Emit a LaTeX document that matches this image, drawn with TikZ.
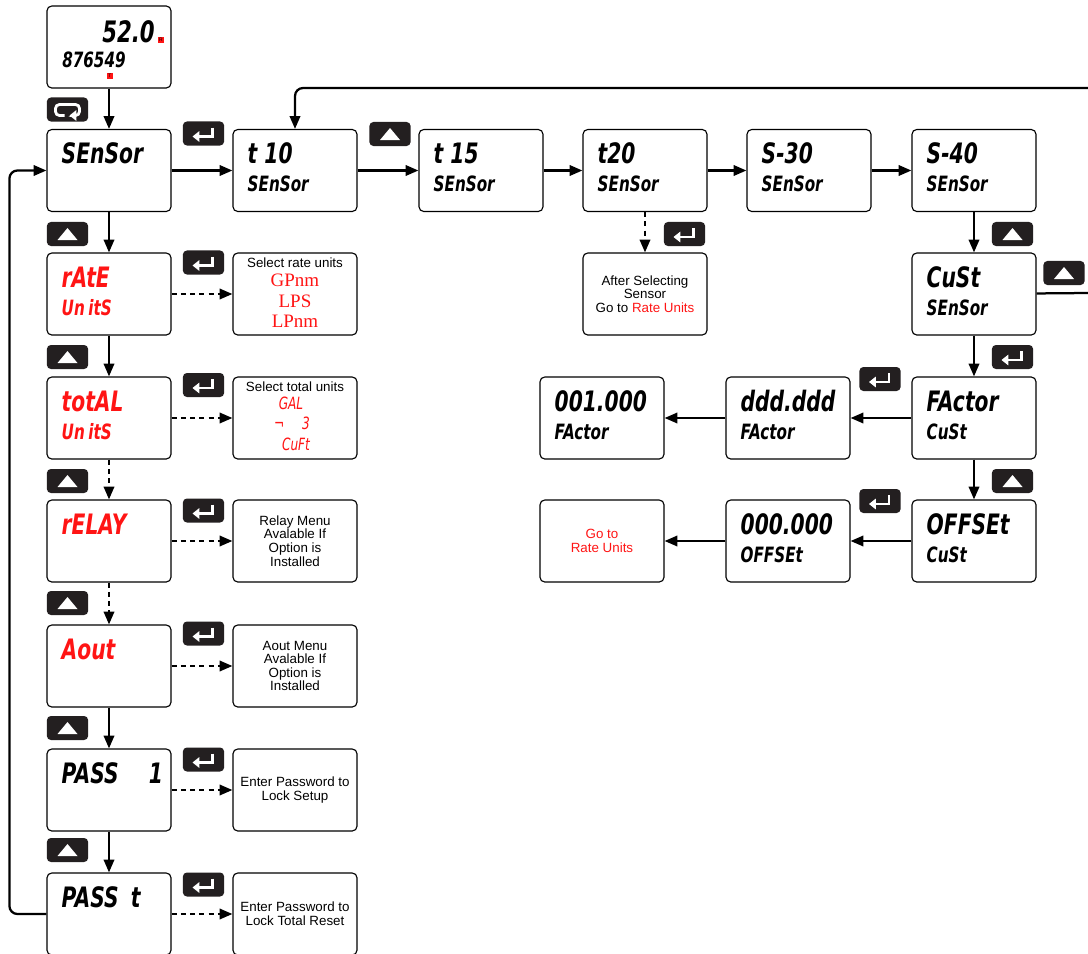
\documentclass[tikz,border=0pt]{standalone}
\usepackage{fontspec}
\usetikzlibrary{arrows.meta}
\newfontfamily\segfont{DejaVu Sans}[FakeStretch=0.72]
\newfontfamily\infofont{Liberation Sans}
\newfontfamily\unitfont{Liberation Serif}
\definecolor{lcdred}{RGB}{255,20,20}
\definecolor{keyblack}{RGB}{35,31,32}

\tikzset{
  disp/.style={draw, rounded corners=0.12cm, line width=0.8pt, minimum width=3.1cm, minimum height=2.05cm},
  info/.style={disp, align=center, font=\infofont\fontsize{9.5}{9.7}\selectfont},
  segbig/.style={anchor=base west, inner sep=0pt, font=\segfont\bfseries\itshape\fontsize{20}{20}\selectfont},
  segsmall/.style={anchor=base west, inner sep=0pt, font=\segfont\bfseries\itshape\fontsize{15}{15}\selectfont},
  segunit/.style={inner sep=0pt, text=lcdred, font=\segfont\itshape\fontsize{12}{12}\selectfont},
  serunit/.style={inner sep=0pt, text=lcdred, font=\unitfont\fontsize{13.5}{13.5}\selectfont},
  infotext/.style={inner sep=0pt, font=\infofont\fontsize{9.5}{9.7}\selectfont},
  flag/.style={fill=lcdred, inner sep=0pt, minimum size=0.13cm, font=\infofont\fontsize{3.5}{3.5}\selectfont},
  key/.style={fill=keyblack, rounded corners=0.1cm, minimum width=1.03cm, minimum height=0.6cm, inner sep=0pt},
  conn/.style={line width=1.6pt, -{Triangle[length=0.32cm, width=0.26cm]}},
  dconn/.style={conn, dash pattern=on 3.6pt off 3pt},
  icon/.style={white, line width=2pt, line join=miter, -{Triangle[length=0.17cm, width=0.26cm]}}
}

% display box: name, position, upper line, lower line, colour
\newcommand{\dispbox}[5]{%
  \node[disp] (#1) at (#2) {};
  \node[segbig, text=#5] (#1-a) at ([shift={(15,35)}]#1.north west) {#3};
  \node[segsmall, text=#5] (#1-b) at ([shift={(15,63)}]#1.north west) {#4};
}
% keys
\newcommand{\upkey}[2]{%
  \node[key] (#1) at (#2) {};
  \fill[white] ([shift={(-10,6)}]#1.center) -- ([shift={(10,6)}]#1.center) -- ([shift={(0,-6)}]#1.center) -- cycle;
}
\newcommand{\enterkey}[2]{%
  \node[key] (#1) at (#2) {};
  \draw[icon] ([shift={(9,-6)}]#1.center) -- ([shift={(9,3)}]#1.center) -- ([shift={(-11,3)}]#1.center);
}
\newcommand{\loopkey}[2]{%
  \node[key] (#1) at (#2) {};
  \draw[icon, rounded corners=0.1cm] ([shift={(-3,6)}]#1.center) -- ([shift={(-12,6)}]#1.center) -- ([shift={(-12,-5)}]#1.center) -- ([shift={(12,-5)}]#1.center) -- ([shift={(12,6)}]#1.center) -- ([shift={(2,6)}]#1.center);
}

\begin{document}
\begin{tikzpicture}[x=0.025cm, y=-0.025cm]
  \useasboundingbox (0,0) rectangle (1088,954);

  % run display
  \node[disp] (top) at (109,47) {};
  \node[segbig, anchor=base east, font=\segfont\bfseries\itshape\fontsize{21}{21}\selectfont] (top-a) at (155,42) {52.0};
  \node[flag] (top-r) at (161,40) {R};
  \node[segsmall] (top-b) at (62,67) {876549};
  \node[flag] (top-t) at (110,76) {T};

  % left column
  \dispbox{sensor}{109,170.5}{SEnSor}{}{black}
  \dispbox{rate}{109,294}{rAtE}{Un\,itS}{lcdred}
  \dispbox{total}{109,418}{totAL}{Un\,itS}{lcdred}
  \dispbox{relay}{109,541}{rELAY}{}{lcdred}
  \dispbox{aout}{109,666}{Aout}{}{lcdred}
  \dispbox{pass1}{109,790}{PASS\hspace{0.75cm}1}{}{black}
  \dispbox{passt}{109,914}{PASS\hspace{0.3cm}t}{}{black}

  % notes beside the left column
  \node[info] (rate-info) at (295,294) {};
  \node[infotext] (rate-info-t) at (295,263) {Select rate units};
  \node[serunit] (rate-info-a) at (295,280) {GPnm};
  \node[serunit] (rate-info-b) at (295,301) {LPS};
  \node[serunit] (rate-info-c) at (295,321) {LPnm};
  \node[info] (total-info) at (295,418) {};
  \node[infotext] (total-info-t) at (295,387) {Select total units};
  \node[segunit] (total-info-a) at (291,403) {GAL};
  \node[segunit] (total-info-b) at (292,423) {¬\hspace{0.45cm}3};
  \node[segunit] (total-info-c) at (296,444) {CuFt};
  \node[info] (relay-info) at (295,541) {Relay Menu\\Avalable If\\Option is\\Installed};
  \node[info] (aout-info) at (295,666) {Aout Menu\\Avalable If\\Option is\\Installed};
  \node[info] (pass1-info) at (295,790) {Enter Password to\\Lock Setup};
  \node[info] (passt-info) at (295,914) {Enter Password to\\Lock Total Reset};

  % sensor row
  \dispbox{t10}{295,170.5}{t 10}{SEnSor}{black}
  \dispbox{t15}{481,170.5}{t 15}{SEnSor}{black}
  \dispbox{t20}{645,170.5}{t20}{SEnSor}{black}
  \dispbox{s30}{809,170.5}{S-30}{SEnSor}{black}
  \dispbox{s40}{974,170.5}{S-40}{SEnSor}{black}
  \node[info] (after) at (645,294) {After Selecting\\Sensor\\Go to \textcolor{lcdred}{Rate Units}};

  % custom sensor
  \dispbox{cust}{974,294}{CuSt}{SEnSor}{black}
  \dispbox{factor}{974,418}{FActor}{CuSt}{black}
  \dispbox{facval}{788,418}{ddd.ddd}{FActor}{black}
  \dispbox{facdef}{602,418}{001.000}{FActor}{black}
  \dispbox{offset}{974,541}{OFFSEt}{CuSt}{black}
  \dispbox{offval}{788,541}{000.000}{OFFSEt}{black}
  \node[info, text=lcdred] (goto) at (602,541) {Go to\\Rate Units};

  % keys
  \loopkey{k-top}{67.5,109.5}
  \enterkey{k-sensor}{203.5,133.5}
  \upkey{k-t15}{390,134}
  \upkey{k-rate}{67.5,234}
  \enterkey{k-rate-in}{203.5,262.5}
  \upkey{k-total}{67.5,357}
  \enterkey{k-total-in}{203.5,385}
  \upkey{k-relay}{67.5,481}
  \enterkey{k-relay-in}{203.5,510.5}
  \upkey{k-aout}{67.5,603}
  \enterkey{k-aout-in}{203.5,633.5}
  \upkey{k-pass1}{67.5,728}
  \enterkey{k-pass1-in}{203.5,759.5}
  \upkey{k-passt}{67.5,850}
  \enterkey{k-passt-in}{203.5,884.5}
  \enterkey{k-after}{684.5,234}
  \upkey{k-cust}{1012.5,234}
  \upkey{k-cust-out}{1064,273}
  \enterkey{k-factor}{1012.5,357}
  \enterkey{k-facval}{880,379}
  \upkey{k-offset}{1012.5,481}
  \enterkey{k-offval}{880,501}

  % connectors
  \draw[conn] (top) -- (sensor);
  \foreach \a/\b in {sensor/t10, t10/t15, t15/t20, t20/s30, s30/s40,
                     sensor/rate, rate/total, aout/pass1, pass1/passt,
                     s40/cust, cust/factor, factor/offset,
                     factor/facval, facval/facdef, offset/offval, offval/goto}
    \draw[conn] (\a) -- (\b);
  \foreach \a/\b in {total/relay, relay/aout, t20/after}
    \draw[dconn] (\a) -- (\b);
  \foreach \n in {rate, total, relay, aout, pass1, passt}
    \draw[dconn] (\n) -- (\n-info);

  % back to the top and round the left side
  \coordinate (back-in) at (1088,88);
  \coordinate (cust-out) at (1088,293);
  \draw[conn, rounded corners=0.2cm] (back-in) -| (t10);
  \draw[line width=1.6pt] (cust) -- (cust-out);
  \draw[conn, rounded corners=0.2cm] (passt.west) -- ++(-37,0) |- (sensor.west);
\end{tikzpicture}
\end{document}
